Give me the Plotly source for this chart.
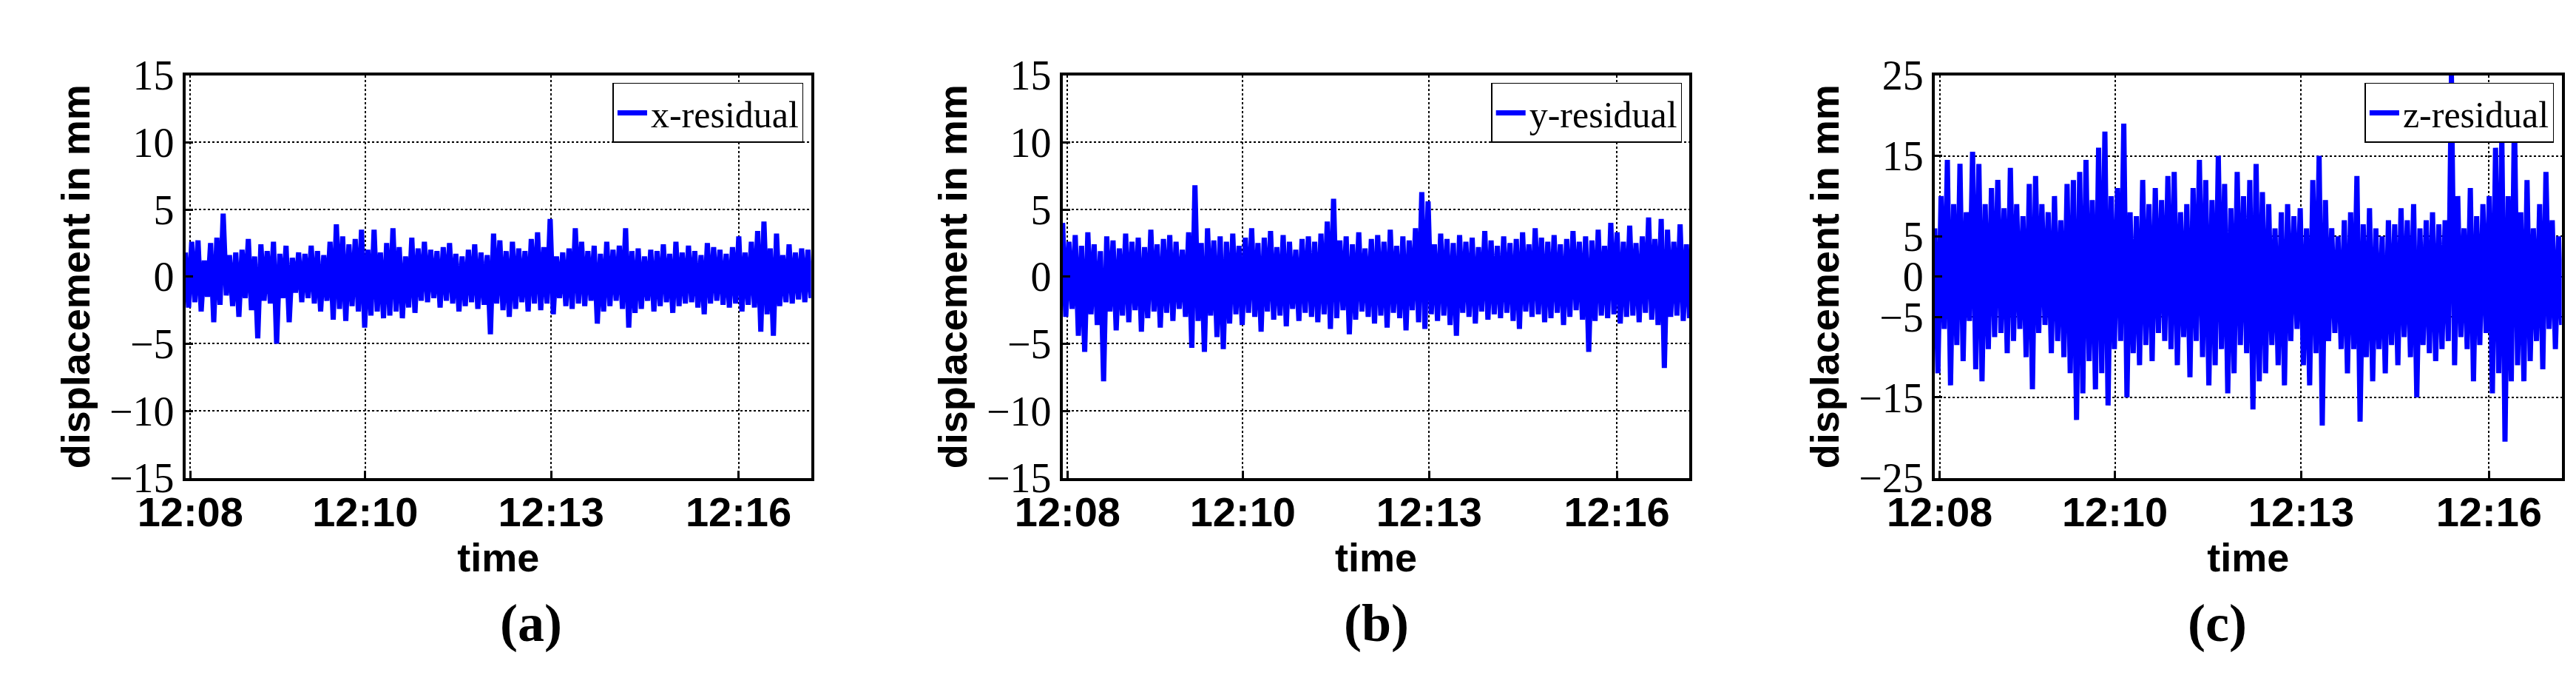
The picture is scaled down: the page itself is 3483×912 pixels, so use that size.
import numpy as np
import plotly.graph_objects as go

x_residual = [1.8,-2.3,2.6,-1.9,2.7,-2.6,1.2,-1.5,2.5,-3.4,2.9,-2.1,4.7,-1.4,1.6,-2.2,1.8,-3.0,2.0,-1.6,
2.8,-2.5,1.5,-4.6,2.4,-1.8,1.9,-2.0,2.6,-5.0,1.7,-1.6,2.3,-3.4,1.4,-1.2,1.8,-1.9,1.7,-1.6,
2.3,-2.0,1.9,-2.6,1.6,-1.8,2.6,-3.2,3.9,-2.4,3.0,-3.3,2.4,-2.2,2.8,-2.6,3.5,-3.8,2.0,-2.9,
3.5,-2.6,1.8,-3.1,2.5,-2.9,3.6,-2.6,2.2,-3.1,1.5,-2.3,2.9,-2.7,2.1,-1.8,2.6,-1.9,2.0,-1.6,
1.9,-2.3,2.2,-1.8,2.5,-2.0,1.7,-2.6,1.5,-2.2,2.0,-1.9,2.4,-2.4,1.8,-2.1,1.6,-4.3,3.2,-2.0,
2.7,-2.5,1.9,-3.0,2.6,-2.4,2.1,-1.9,1.9,-2.6,2.8,-2.0,3.3,-2.5,2.2,-2.0,4.3,-2.8,1.5,-1.6,
1.8,-2.2,2.1,-2.4,3.6,-2.0,2.6,-2.2,1.9,-1.8,2.3,-3.5,1.7,-2.6,2.6,-2.2,2.0,-1.8,2.3,-2.4,
3.6,-3.8,1.9,-2.7,2.1,-2.4,1.5,-1.8,2.0,-2.6,1.9,-2.2,2.4,-1.9,1.7,-2.7,2.6,-2.2,1.8,-2.0,
2.3,-1.9,1.9,-2.3,1.6,-2.8,2.5,-2.0,2.2,-1.8,2.0,-2.1,1.7,-2.3,2.2,-2.0,3.0,-2.6,1.8,-2.1,
2.6,-2.3,3.4,-4.1,4.1,-2.8,2.1,-4.4,3.2,-2.2,1.6,-1.9,2.4,-2.0,1.8,-1.7,2.1,-1.9,2.0,-1.6]

y_residual = [4.0,-3.0,2.6,-2.4,3.1,-4.4,2.3,-5.6,3.3,-2.8,2.4,-3.6,1.9,-7.8,3.0,-2.6,2.7,-4.0,2.1,-2.9,
3.2,-3.4,2.6,-2.5,2.9,-4.1,2.2,-3.1,3.5,-2.6,2.4,-3.8,2.8,-2.7,3.1,-3.3,2.6,-2.4,2.0,-3.0,
3.3,-5.3,6.8,-3.3,2.5,-5.6,3.6,-2.9,2.7,-4.5,3.0,-5.4,2.6,-3.5,3.2,-2.8,2.3,-3.6,2.9,-2.7,
3.6,-3.0,2.5,-4.1,2.9,-2.6,3.4,-3.2,2.2,-2.9,3.1,-3.7,2.6,-2.4,2.0,-3.3,2.8,-2.7,3.0,-3.0,
2.6,-3.4,3.2,-2.8,4.1,-3.9,5.8,-3.1,2.7,-2.5,3.0,-4.3,2.4,-3.2,3.3,-2.6,2.1,-3.0,2.8,-3.5,
3.1,-2.9,2.6,-3.8,3.5,-2.7,2.3,-3.1,3.0,-4.0,2.7,-2.5,3.6,-3.4,6.3,-3.9,5.6,-2.8,2.4,-3.3,
3.2,-2.9,2.8,-3.6,2.5,-4.4,3.1,-2.7,2.6,-3.0,2.9,-3.5,2.2,-2.6,3.4,-3.2,2.7,-2.8,2.3,-3.1,
3.0,-2.7,2.5,-3.3,2.8,-3.9,3.3,-2.6,2.4,-3.0,3.6,-2.8,2.9,-3.4,2.6,-3.1,3.1,-2.7,2.4,-3.6,
2.8,-3.0,3.4,-2.5,2.6,-3.2,3.0,-5.6,2.7,-3.3,3.5,-2.9,2.3,-3.1,4.0,-2.8,3.3,-3.5,2.6,-3.0,
3.8,-2.9,2.5,-3.4,3.0,-2.7,4.4,-3.2,2.8,-3.6,4.3,-6.8,3.5,-3.0,2.6,-2.9,3.9,-3.3,2.4,-3.1]

z_residual = [6.0,-12.0,10.0,-6.5,14.5,-13.5,9.0,-8.5,14.0,-10.5,8.0,-5.5,15.5,-11.5,14.0,-13.0,9.0,-9.0,11.0,-7.5,
12.0,-7.0,8.5,-9.5,13.5,-8.0,9.0,-6.5,7.5,-10.0,11.5,-14.0,12.5,-7.0,9.0,-6.0,8.0,-9.5,10.0,-8.0,
7.0,-10.0,11.5,-12.0,12.0,-17.8,13.0,-14.5,14.5,-10.5,9.5,-14.0,16.0,-12.0,18.0,-16.0,10.0,-9.0,11.0,-8.0,
19.0,-15.0,8.0,-9.5,7.5,-11.0,12.0,-8.5,9.0,-10.5,11.0,-7.0,9.5,-8.0,12.5,-9.0,13.0,-11.0,8.0,-7.5,
9.0,-12.5,11.0,-8.0,14.5,-10.0,12.0,-13.5,9.5,-11.0,15.0,-9.0,11.5,-14.5,8.5,-12.0,13.0,-8.5,10.0,-9.5,
12.0,-16.5,14.0,-13.0,10.5,-12.0,9.0,-8.5,6.0,-11.0,8.0,-13.5,9.0,-8.0,7.5,-6.5,8.5,-11.0,6.0,-13.5,
12.0,-9.5,15.0,-18.5,9.5,-8.0,6.0,-7.0,5.0,-9.0,7.0,-12.0,8.0,-9.0,12.5,-18.0,6.5,-10.0,8.5,-13.0,
6.0,-9.0,5.0,-12.0,7.0,-8.5,6.5,-11.0,8.5,-7.5,7.0,-10.0,9.0,-15.0,6.0,-8.5,7.0,-9.5,8.0,-10.5,
6.5,-9.0,7.0,-8.0,25.0,-11.0,10.0,-7.5,6.0,-9.0,11.0,-13.0,7.5,-8.5,9.0,-7.0,10.0,-14.5,16.0,-12.0,
17.5,-20.5,10.0,-13.0,20.5,-11.0,8.0,-13.0,12.0,-10.5,6.0,-8.0,9.0,-11.5,13.0,-6.5,7.0,-9.0,5.0,-6.0]

time_tickvals = [0.07, 2.6, 5.29, 8.0]
time_ticktext = ["12:08", "12:10", "12:13", "12:16"]
series_names = ["x-residual", "y-residual", "z-residual"]
panel_labels = ["(a)", "(b)", "(c)"]
y_ranges = [[-15, 15], [-15, 15], [-25, 25]]
y_tickvals = [[-15, -10, -5, 0, 5, 10, 15], [-15, -10, -5, 0, 5, 10, 15], [-25, -15, -5, 0, 5, 15, 25]]

domains = [[0.052, 0.2995], [0.399, 0.647], [0.744, 0.992]]
ydom = [0.285, 0.925]
sans = "Liberation Sans"
serif = "Liberation Serif"

fig = go.Figure()
for i, vals in enumerate([x_residual, y_residual, z_residual]):
    t = np.linspace(0.0, 9.05, len(vals))
    sfx = "" if i == 0 else str(i + 1)
    fig.add_trace(go.Scatter(x=t, y=vals, mode="lines", name=series_names[i],
                             line=dict(color="#0000ff", width=7),
                             xaxis="x" + sfx, yaxis="y" + sfx, legend="legend" + sfx))
    ax = dict(domain=domains[i], range=[0, 9.05], tickvals=time_tickvals, ticktext=time_ticktext,
              showgrid=True, gridcolor="black", griddash="dot", gridwidth=2,
              showline=True, linecolor="black", linewidth=4, mirror=True,
              ticks="inside", ticklen=10, tickwidth=3, tickcolor="black", zeroline=False,
              ticklabelstandoff=-6,
              tickfont=dict(family=sans, size=56, color="black", weight="bold"),
              title=dict(text="<b>time</b>", font=dict(family=sans, size=54, color="black"), standoff=0),
              anchor="y" + sfx)
    ay = dict(domain=ydom, range=y_ranges[i], tickvals=y_tickvals[i],
              ticktext=[str(v).replace("-", "\u2212") for v in y_tickvals[i]],
              showgrid=True, gridcolor="black", griddash="dot", gridwidth=2,
              showline=True, linecolor="black", linewidth=4, mirror=True,
              ticks="inside", ticklen=10, tickwidth=3, tickcolor="black", zeroline=False,
              tickfont=dict(family=serif, size=56, color="black"),
              title=dict(text="<b>displacement in mm</b>", font=dict(family=sans, size=54, color="black"), standoff=10),
              anchor="x" + sfx)
    fig.layout["xaxis" + sfx] = ax
    fig.layout["yaxis" + sfx] = ay
    fig.layout["legend" + sfx] = dict(x=domains[i][1] - 0.003, y=ydom[1] - 0.012, xanchor="right", yanchor="top",
                                      xref="paper", yref="paper",
                                      bordercolor="black", borderwidth=1.5, bgcolor="white",
                                      font=dict(family=serif, size=50, color="black"),
                                      itemwidth=40, tracegroupgap=0)
    fig.add_annotation(text="<b>" + panel_labels[i] + "</b>", x=sum(domains[i]) / 2, y=0.005,
                       xref="paper", yref="paper", yanchor="bottom",
                       showarrow=False, font=dict(family=serif, size=72, color="black"))

fig.update_layout(width=3483, height=912, margin=dict(l=0, r=0, t=0, b=0),
                  plot_bgcolor="white", paper_bgcolor="white", showlegend=True)
fig.write_html("out.html")
